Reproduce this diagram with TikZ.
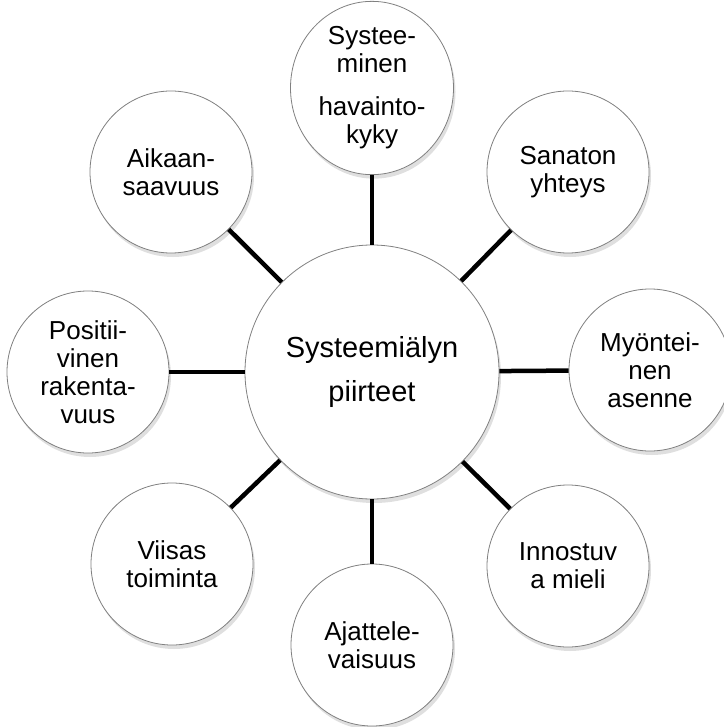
\documentclass[tikz,border=0pt]{standalone}
\usepackage{fontspec}
\setmainfont{Liberation Sans}
\usetikzlibrary{shadows,shapes.geometric}
\begin{document}
\begin{tikzpicture}[x=1pt,y=-1pt,
  bubble/.style={circle,draw=black!50,line width=0.8pt,fill=white,minimum size=162pt,inner sep=0pt,align=center,
    font=\fontsize{26}{28}\selectfont,drop shadow={opacity=0.25,shadow xshift=2pt,shadow yshift=-4pt}},
  hub/.style={bubble,minimum size=254pt,font=\fontsize{29}{44}\selectfont},
  spoke/.style={line width=4.5pt}]
\useasboundingbox (0,0) rectangle (723,727);
% centre
\node[hub] (piirteet) at (372,372) {Systeemiälyn\\piirteet};
% ring
\node[bubble,ellipse,minimum width=163pt,minimum height=172pt] (havainto) at (372,88)
  {Systee-\\minen\\[15pt]havainto-\\kyky};
\node[bubble] (sanaton) at (568,172) {Sanaton\\yhteys};
\node[bubble] (asenne) at (650,370) {Myöntei-\\nen\\asenne};
\node[bubble] (mieli) at (568,566) {Innostuv\\a mieli};
\node[bubble] (ajattelu) at (372,645) {Ajattele-\\vaisuus};
\node[bubble] (toiminta) at (172,564) {Viisas\\toiminta};
\node[bubble] (rakenne) at (88,372) {Positii-\\vinen\\rakenta-\\vuus};
\node[bubble] (aikaan) at (171,172) {Aikaan-\\saavuus};
% spokes
\foreach \n in {havainto,sanaton,asenne,mieli,ajattelu,toiminta,rakenne,aikaan}
  \draw[spoke] (piirteet) -- (\n);
\end{tikzpicture}
\end{document}
